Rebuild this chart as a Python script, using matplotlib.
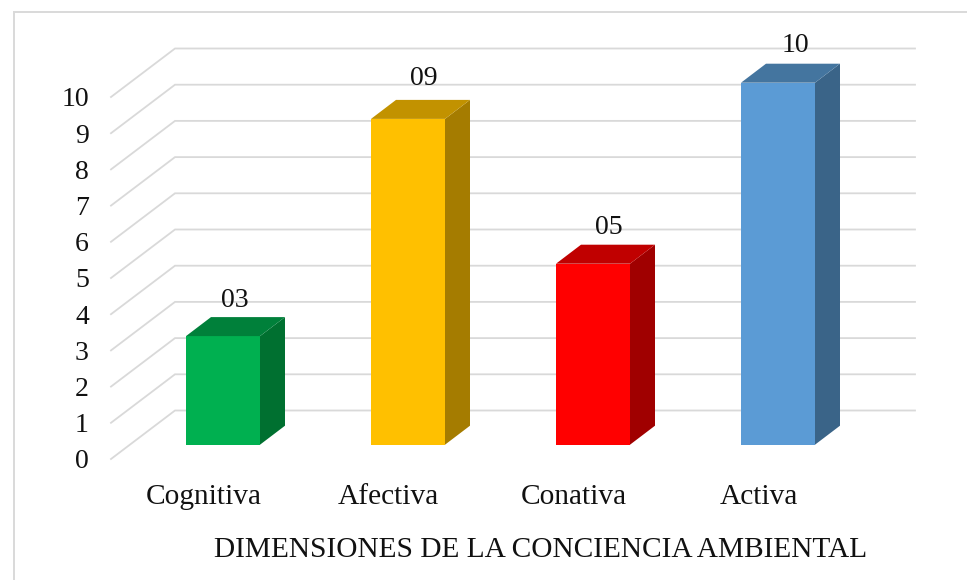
import matplotlib
matplotlib.use("Agg")
import matplotlib.pyplot as plt
from matplotlib.patches import Polygon, Rectangle
from matplotlib.lines import Line2D

categories = ["Cognitiva", "Afectiva", "Conativa", "Activa"]
values = [3, 9, 5, 10]
value_labels = ["03", "09", "05", "10"]
y_ticks = list(range(0, 11))
x_title = "DIMENSIONES DE LA CONCIENCIA AMBIENTAL"

front_colors = ["#00B050", "#FFC000", "#FF0000", "#5B9BD5"]
top_colors = ["#00803A", "#C29200", "#C00000", "#44759F"]
side_colors = ["#007030", "#A57C00", "#A00000", "#3A6488"]
label_offsets_px = [(12, 36), (16, 40), (16, 36.5), (17, 37)]

W, H = 967, 580
plt.rcParams["font.family"] = ["Liberation Serif", "DejaVu Serif"]
fig = plt.figure(figsize=(W / 100, H / 100), dpi=100, facecolor="white")

# Front plane of the pseudo-3D plot, in pixels
L, R, T, B = 111, 851, 97, 459
ax = fig.add_axes([L / W, 1 - B / H, (R - L) / W, (B - T) / H])
ax.set_xlim(-0.5, 3.5)
ax.set_ylim(0, 10)
PX = 1 / ((R - L) / 4)   # x data units per pixel
PY = 10 / (B - T)        # y data units per pixel
for s in ax.spines.values():
    s.set_visible(False)
ax.patch.set_alpha(0)

GRID = "#D9D9D9"
wall_dx, wall_dy = 64 * PX, 48.5 * PY
for v in y_ticks:
    ax.plot([-0.5, -0.5 + wall_dx, 3.5 + wall_dx], [v, v + wall_dy, v + wall_dy],
            color=GRID, lw=1.3, clip_on=False, zorder=1, solid_joinstyle="miter")

base = 14.3 * PY
shift = 19.5 * PX
half = 37 * PX
dx, dy = 25 * PX, 19 * PY

for i, v in enumerate(values):
    x0, x1 = i + shift - half, i + shift + half
    y0, y1 = base, base + v
    ax.add_patch(Rectangle((x0, y0), x1 - x0, y1 - y0, fc=front_colors[i], ec="none",
                           clip_on=False, zorder=3))
    ax.add_patch(Polygon([(x1, y0), (x1 + dx, y0 + dy), (x1 + dx, y1 + dy), (x1, y1)],
                         fc=side_colors[i], ec="none", clip_on=False, zorder=3))
    ax.add_patch(Polygon([(x0, y1), (x1, y1), (x1 + dx, y1 + dy), (x0 + dx, y1 + dy)],
                         fc=top_colors[i], ec="none", clip_on=False, zorder=3))
    ox, oy = label_offsets_px[i]
    ax.annotate(value_labels[i], (i + shift, y1), xytext=(ox * 0.72, oy * 0.72),
                textcoords="offset points", ha="center", va="center", fontsize=20,
                color="#111111", zorder=4, annotation_clip=False)

ax.set_yticks(y_ticks)
ax.set_yticklabels([str(t) for t in y_ticks], fontsize=20, color="#111111")
ax.tick_params(axis="y", length=0, pad=16)
ax.set_xticks(range(len(categories)))
ax.set_xticklabels(categories, fontsize=21.2, color="#111111")
ax.tick_params(axis="x", length=0, pad=18)
ax.set_xlabel(x_title, fontsize=21.2, color="#111111", labelpad=19.2, x=0.581)

fig.add_artist(Line2D([14 / W, 14 / W, 1], [0, 1 - 12 / H, 1 - 12 / H], color=GRID, lw=1.4,
                      transform=fig.transFigure, solid_joinstyle="miter"))

fig.savefig("out.png", dpi=100, facecolor="white")
